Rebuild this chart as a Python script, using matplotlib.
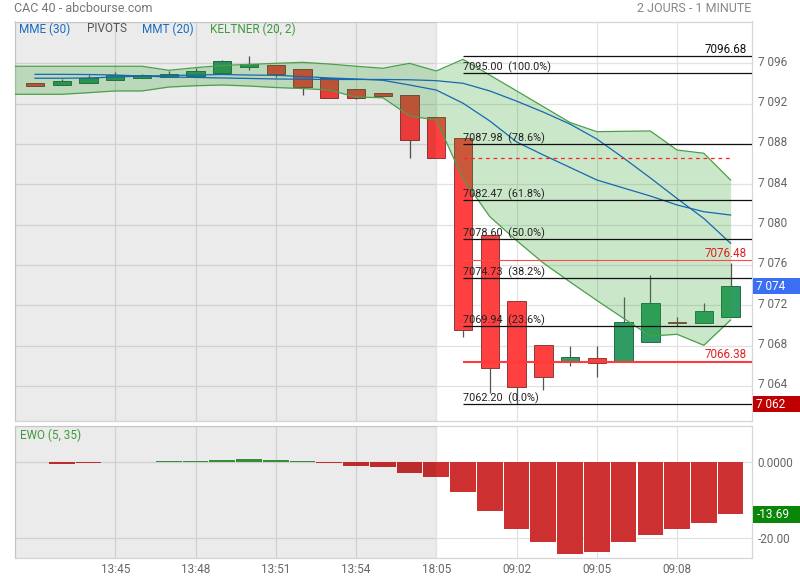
import numpy as np
import matplotlib
matplotlib.use("Agg")
import matplotlib.pyplot as plt
from matplotlib.patches import Rectangle
from matplotlib.transforms import blended_transform_factory, ScaledTranslation

plt.rcParams["font.family"] = ["Roboto", "DejaVu Sans"]

# --- one-minute candles (previous session end + current session start) ---
opens = [7094.00, 7093.88, 7094.00, 7094.30, 7094.50, 7094.60, 7094.75, 7095.00, 7095.60,
         7095.85, 7095.40, 7094.50, 7093.50, 7093.05, 7092.90, 7090.65, 7088.55, 7079.00,
         7072.40, 7068.10, 7066.50, 7066.75, 7066.50, 7068.40, 7070.35, 7070.27, 7070.80]
highs = [7094.00, 7094.40, 7094.80, 7095.15, 7094.95, 7095.25, 7095.50, 7096.30, 7096.68,
         7095.85, 7095.40, 7094.50, 7093.50, 7093.05, 7092.90, 7090.65, 7088.55, 7079.00,
         7072.40, 7068.10, 7067.95, 7067.95, 7072.85, 7075.00, 7070.80, 7072.20, 7076.20]
lows = [7093.80, 7093.88, 7094.00, 7094.30, 7094.50, 7094.60, 7094.75, 7095.00, 7095.35,
        7094.60, 7092.90, 7092.60, 7092.45, 7092.80, 7086.60, 7086.58, 7068.90, 7063.25,
        7062.20, 7063.60, 7065.95, 7064.85, 7066.50, 7068.40, 7069.97, 7070.27, 7070.80]
closes = [7093.80, 7094.25, 7094.50, 7094.85, 7094.85, 7094.95, 7095.20, 7096.20, 7095.95,
          7094.97, 7093.70, 7092.60, 7092.60, 7092.80, 7088.40, 7086.58, 7069.50, 7065.75,
          7063.92, 7064.90, 7066.87, 7066.30, 7070.35, 7072.20, 7070.20, 7071.45, 7073.90]

# moving averages (one value per candle)
mme_30 = [7094.91, 7094.91, 7094.89, 7094.84, 7094.74, 7094.64, 7094.60, 7094.55, 7094.50,
          7094.45, 7094.42, 7094.40, 7094.40, 7094.40, 7094.37, 7094.28, 7094.02, 7093.26,
          7092.25, 7091.16, 7089.97, 7088.49, 7086.61, 7084.63, 7082.59, 7080.61, 7078.15]
mmt_20 = [7094.52, 7094.52, 7094.55, 7094.64, 7094.74, 7094.79, 7094.84, 7094.89, 7094.84,
          7094.81, 7094.69, 7094.55, 7094.45, 7094.32, 7093.85, 7093.35, 7092.04, 7090.28,
          7088.20, 7086.91, 7085.67, 7084.43, 7083.63, 7082.84, 7081.95, 7081.28, 7080.95]

# Keltner channel, starts one minute before the first candle
keltner_upper = [7095.71, 7095.71, 7095.71, 7095.71, 7095.71, 7095.71, 7095.31, 7095.57,
                 7095.79, 7095.89, 7096.00, 7096.10, 7095.93, 7095.71, 7095.51, 7096.00,
                 7095.24, 7096.40, 7094.83, 7093.27, 7091.70, 7090.13, 7089.22, 7089.26,
                 7089.29, 7087.40, 7087.08, 7084.43]
keltner_lower = [7092.93, 7092.93, 7092.93, 7093.09, 7093.26, 7093.26, 7093.65, 7093.78,
                 7093.85, 7093.75, 7093.60, 7093.50, 7093.35, 7092.65, 7092.59, 7090.78,
                 7090.38, 7084.53, 7080.79, 7078.42, 7076.19, 7074.31, 7072.48, 7070.70,
                 7068.95, 7069.12, 7068.03, 7070.54]

# EWO (5, 35) oscillator
ewo = [0.0, -0.35, -0.10, 0.0, 0.0, 0.35, 0.35, 0.70, 0.95, 0.70, 0.35, -0.20, -0.96,
       -1.23, -2.80, -3.86, -7.70, -12.70, -17.50, -21.00, -24.00, -23.50, -21.00, -19.10,
       -17.50, -15.90, -13.69]

tick_index = [3, 6, 9, 12, 15, 18, 21, 24]
tick_labels = ["13:45", "13:48", "13:51", "13:54", "18:05", "09:02", "09:05", "09:08"]
price_ticks = [7064, 7068, 7072, 7076, 7080, 7084, 7088, 7092, 7096]

fib_levels = [7095.00, 7087.98, 7082.47, 7078.60, 7074.73, 7069.94, 7062.20]
fib_pcts = ["100.0%", "78.6%", "61.8%", "50.0%", "38.2%", "23.6%", "0.0%"]
day_high = 7096.68
red_levels = [7076.48, 7066.38]
prev_close = 7086.58
session_split = 15  # last candle of the previous session

W, H = 800, 580
fig = plt.figure(figsize=(W / 100, H / 100), dpi=100)


def fx(px):
    return px / W


def fy(py):
    return 1 - py / H


ax = fig.add_axes([fx(15), fy(421), fx(737), (421 - 21.5) / H])
ax2 = fig.add_axes([fx(15), fy(557.7), fx(737), (557.7 - 425.7) / H])

n = len(opens)
xs = np.arange(n)
xk = np.arange(-1, n)
o = np.array(opens)
c = np.array(closes)
up = c >= o

GRID = "#e2e2e2"
SPINE = "#d6d6d6"
for a in (ax, ax2):
    a.set_facecolor("white")
    a.set_xlim(-0.75, 26.80)
    a.grid(True, color=GRID, linewidth=0.9)
    a.set_axisbelow(True)
    for s in a.spines.values():
        s.set_color(SPINE)
        s.set_linewidth(0.9)
    a.axvspan(-2, session_split, color="black", alpha=0.08, linewidth=0, zorder=4)
    a.yaxis.tick_right()
    a.tick_params(length=0, labelsize=8.5, labelcolor="#666666")

# --- price panel ---
ax.set_ylim(7060.52, 7100.15)
ax.set_yticks(price_ticks, [f"{v:,}".replace(",", " ") for v in price_ticks])
ax.tick_params(axis="y", pad=4)
ax.set_xticks(tick_index, [""] * len(tick_index))
# price labels sit a little above their grid lines
lift = ScaledTranslation(0, 2.5 / 100, fig.dpi_scale_trans)
for lbl in ax.get_yticklabels():
    lbl.set_transform(lbl.get_transform() + lift)

body_col = np.where(up, "#2f9c63", "#ff4040")
edge_col = np.where(up, "#216e46", "#8b3a3a")
ax.vlines(xs, lows, highs, color="#555555", linewidth=0.9, zorder=2)
ax.bar(xs, np.maximum(np.abs(c - o), 0.12), bottom=np.minimum(o, c), width=0.685,
       color=body_col, edgecolor=edge_col, linewidth=0.7, zorder=3)

ax.fill_between(xk, keltner_lower, keltner_upper, color="#2ca02c", alpha=0.25,
                linewidth=0, zorder=5)
ax.plot(xk, keltner_upper, color="#4aa04a", linewidth=0.9, zorder=6)
ax.plot(xk, keltner_lower, color="#4aa04a", linewidth=0.9, zorder=6)
ax.plot(xs, mme_30, color="#1668b0", linewidth=0.9, zorder=7)
ax.plot(xs, mmt_20, color="#1668b0", linewidth=0.9, zorder=7)

start = session_split + 1
right = ax.get_xlim()[1]
ax.hlines(fib_levels + [day_high], start, right, color="#111111", linewidth=0.9, zorder=8)
for lvl, pct in zip(fib_levels, fib_pcts):
    ax.annotate(f"{lvl:.2f}  ({pct})", (start, lvl), xytext=(0, 2), textcoords="offset points",
                ha="left", va="baseline", fontsize=7.8, color="#222222", zorder=9)
ax.annotate(f"{day_high:.2f}", (right, day_high), xytext=(-4, 2.5), textcoords="offset points",
            ha="right", va="baseline", fontsize=8.4, color="#111111", zorder=9)

ax.hlines(red_levels[0], start, right, color="#ff4a4a", linewidth=0.8, zorder=8)
ax.hlines(red_levels[1], start, right, color="#ff3b3b", linewidth=1.5, zorder=8)
for lvl in red_levels:
    ax.annotate(f"{lvl:.2f}", (right, lvl), xytext=(-4, 2.5), textcoords="offset points",
                ha="right", va="baseline", fontsize=8.4, color="#e02020", zorder=9)
ax.hlines(prev_close, start, n - 1, color="#ff2020", linewidth=0.9, linestyles=(0, (3, 3)),
          zorder=8)

# boxed value labels on the right margin
tb = blended_transform_factory(fig.transFigure, ax.transData)
for val, col in [(closes[-1], "#3a6ff3"), (min(lows), "#c00000")]:
    ax.add_patch(Rectangle((fx(753), val - 0.82), 1 - fx(753), 1.64, transform=tb,
                           facecolor=col, edgecolor="none", clip_on=False, zorder=10))
    ax.text(fx(756.5), val, f"{round(val):,}".replace(",", " "), transform=tb, ha="left",
            va="center", fontsize=8.5, color="white", zorder=11)

# --- EWO panel ---
ax2.set_ylim(-25.1, 9.63)
ax2.set_yticks([0, -20], ["0.0000", "-20.00"])
ax2.set_xticks(tick_index, tick_labels)
ax2.tick_params(axis="y", pad=4)
ax2.tick_params(axis="x", pad=4)
ew = np.array(ewo)
ax2.bar(xs, ew, width=0.96, color=np.where(ew >= 0, "#3a9a3a", "#cc3030"), linewidth=0,
        zorder=3)
tb2 = blended_transform_factory(fig.transFigure, ax2.transData)
ax2.add_patch(Rectangle((fx(753), ewo[-1] - 2.25), 1 - fx(753), 4.5, transform=tb2,
                        facecolor="#0a870a", edgecolor="none", clip_on=False, zorder=10))
ax2.text(fx(756.5), ewo[-1], f"{ewo[-1]:.2f}", transform=tb2, ha="left", va="center",
         fontsize=8.5, color="white", zorder=11)

# --- titles and legends ---
fig.text(fx(14), fy(8), "CAC 40 - abcbourse.com", ha="left", va="center", fontsize=9,
         color="#777777")
fig.text(fx(751), fy(8), "2 JOURS - 1 MINUTE", ha="right", va="center", fontsize=9,
         color="#888888")
for px, txt, col in [(19, "MME (30)", "#1a6cc0"), (86.5, "PIVOTS", "#555555"),
                     (142.5, "MMT (20)", "#1a6cc0"), (210, "KELTNER (20, 2)", "#3d9a3d")]:
    fig.text(fx(px), fy(29), txt, ha="left", va="center", fontsize=8.5, color=col)
fig.text(fx(19.5), fy(435), "EWO (5, 35)", ha="left", va="center", fontsize=8.5,
         color="#3d9a3d")

fig.savefig("out.png", dpi=100, facecolor="white")
